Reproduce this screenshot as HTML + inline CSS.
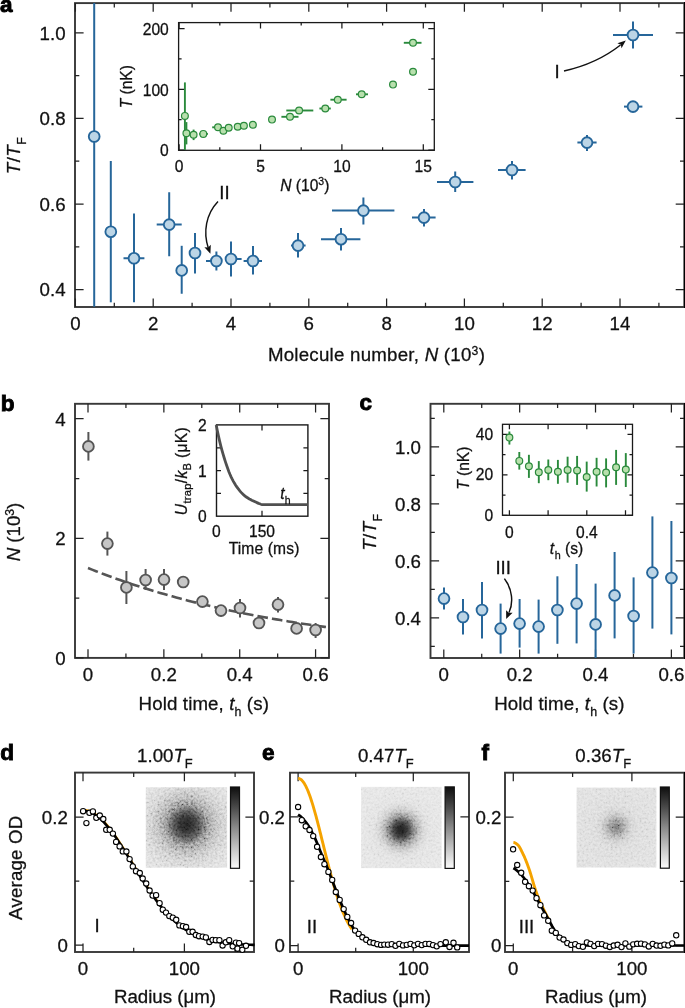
<!DOCTYPE html>
<html><head><meta charset="utf-8"><style>
html,body{margin:0;padding:0;background:#fff;}
svg{display:block;will-change:transform;}
text{font-family:"Liberation Sans",sans-serif;stroke:#111;stroke-width:0.28px;}
</style></head><body>
<svg width="685" height="1008" viewBox="0 0 685 1008" font-family="Liberation Sans, sans-serif">
<rect width="685" height="1008" fill="#fff"/>
<defs>
<filter id="nz" x="0" y="0" width="1" height="1">
<feTurbulence type="fractalNoise" baseFrequency="0.45" numOctaves="2" seed="5" result="n"/>
<feColorMatrix in="n" type="matrix" values="1.6 0 0 0 -0.3  1.6 0 0 0 -0.3  1.6 0 0 0 -0.3  0 0 0 0 1"/>
</filter>
<linearGradient id="cb" x1="0" y1="0" x2="0" y2="1">
<stop offset="0" stop-color="#0e0e0e"/><stop offset="0.25" stop-color="#4a4a4a"/><stop offset="0.5" stop-color="#8a8a8a"/><stop offset="0.75" stop-color="#c4c4c4"/><stop offset="1" stop-color="#fbfbfb"/>
</linearGradient>
<radialGradient id="gd" cx="0.5" cy="0.465" r="0.62" fx="0.5" fy="0.465">
<stop offset="0" stop-color="#1e1e1e"/><stop offset="0.15" stop-color="#2e2e2e"/><stop offset="0.28" stop-color="#505050"/><stop offset="0.4" stop-color="#808080"/><stop offset="0.55" stop-color="#adadad"/><stop offset="0.7" stop-color="#c6c6c6"/><stop offset="0.85" stop-color="#d3d3d3"/><stop offset="1" stop-color="#dadada"/>
</radialGradient>
<radialGradient id="ge" cx="0.496" cy="0.528" r="0.5" fx="0.496" fy="0.528">
<stop offset="0" stop-color="#1c1c1c"/><stop offset="0.1" stop-color="#262626"/><stop offset="0.2" stop-color="#404040"/><stop offset="0.3" stop-color="#707070"/><stop offset="0.42" stop-color="#aaaaaa"/><stop offset="0.55" stop-color="#d0d0d0"/><stop offset="0.7" stop-color="#dedede"/><stop offset="1" stop-color="#e2e2e2"/>
</radialGradient>
<radialGradient id="gf" cx="0.494" cy="0.493" r="0.5" fx="0.494" fy="0.493">
<stop offset="0" stop-color="#6a6a6a"/><stop offset="0.12" stop-color="#808080"/><stop offset="0.25" stop-color="#afafaf"/><stop offset="0.38" stop-color="#cdcdcd"/><stop offset="0.55" stop-color="#d8d8d8"/><stop offset="1" stop-color="#dcdcdc"/>
</radialGradient>
</defs>
<text x="0" y="11.6" font-size="22.5" font-weight="bold" fill="#000" style="stroke:#000;stroke-width:0.9px">a</text>
<rect x="75" y="3.1" width="609.3" height="303.9" fill="none" stroke="#383838" stroke-width="1.9"/>
<path d="M75.4 307V298.4M75.4 3.1V11.7M114.3 307V302.7M114.3 3.1V7.4M153.2 307V298.4M153.2 3.1V11.7M192.1 307V302.7M192.1 3.1V7.4M231 307V298.4M231 3.1V11.7M269.9 307V302.7M269.9 3.1V7.4M308.8 307V298.4M308.8 3.1V11.7M347.7 307V302.7M347.7 3.1V7.4M386.6 307V298.4M386.6 3.1V11.7M425.5 307V302.7M425.5 3.1V7.4M464.4 307V298.4M464.4 3.1V11.7M503.3 307V302.7M503.3 3.1V7.4M542.2 307V298.4M542.2 3.1V11.7M581.1 307V302.7M581.1 3.1V7.4M620 307V298.4M620 3.1V11.7M658.9 307V302.7M658.9 3.1V7.4M75 289.6H83.6M684.3 289.6H675.7M75 246.8H79.3M684.3 246.8H680M75 204H83.6M684.3 204H675.7M75 161.2H79.3M684.3 161.2H680M75 118.4H83.6M684.3 118.4H675.7M75 75.6H79.3M684.3 75.6H680M75 32.8H83.6M684.3 32.8H675.7" stroke="#222" stroke-width="1.25" fill="none"/>
<rect x="684" y="2" width="1" height="306" fill="#000"/>
<text x="75.4" y="330.3" font-size="18.7" text-anchor="middle" fill="#111">0</text>
<text x="153.2" y="330.3" font-size="18.7" text-anchor="middle" fill="#111">2</text>
<text x="231" y="330.3" font-size="18.7" text-anchor="middle" fill="#111">4</text>
<text x="308.8" y="330.3" font-size="18.7" text-anchor="middle" fill="#111">6</text>
<text x="386.6" y="330.3" font-size="18.7" text-anchor="middle" fill="#111">8</text>
<text x="464.4" y="330.3" font-size="18.7" text-anchor="middle" fill="#111">10</text>
<text x="542.2" y="330.3" font-size="18.7" text-anchor="middle" fill="#111">12</text>
<text x="620" y="330.3" font-size="18.7" text-anchor="middle" fill="#111">14</text>
<text x="65.6" y="296.4" font-size="18.7" text-anchor="end" fill="#111">0.4</text>
<text x="65.6" y="210.8" font-size="18.7" text-anchor="end" fill="#111">0.6</text>
<text x="65.6" y="125.2" font-size="18.7" text-anchor="end" fill="#111">0.8</text>
<text x="65.6" y="39.6" font-size="18.7" text-anchor="end" fill="#111">1.0</text>
<text x="267.9" y="361.2" font-size="18.7" text-anchor="start" fill="#111" letter-spacing="0.24">Molecule number, <tspan font-style="italic">N</tspan> (10<tspan font-size="12.2" dy="-6.5">3</tspan><tspan dy="6.5">)</tspan></text>
<text transform="translate(19.6 174.2) rotate(-90)" font-size="18.7" fill="#111" letter-spacing="0.45"><tspan font-style="italic">T</tspan>/<tspan font-style="italic">T</tspan><tspan font-size="12.4" dy="6.6">F</tspan></text>
<rect x="178.6" y="22.6" width="255.7" height="127.7" fill="none" stroke="#1a1a1a" stroke-width="1.3"/>
<path d="M179.1 150.3V144.3M179.1 22.6V28.6M219.8 150.3V147.3M219.8 22.6V25.6M260.5 150.3V144.3M260.5 22.6V28.6M301.2 150.3V147.3M301.2 22.6V25.6M341.9 150.3V144.3M341.9 22.6V28.6M382.6 150.3V147.3M382.6 22.6V25.6M423.3 150.3V144.3M423.3 22.6V28.6M178.6 150H184.6M434.3 150H428.3M178.6 119.65H181.6M434.3 119.65H431.3M178.6 89.3H184.6M434.3 89.3H428.3M178.6 58.95H181.6M434.3 58.95H431.3M178.6 28.6H184.6M434.3 28.6H428.3" stroke="#1a1a1a" stroke-width="1.25" fill="none"/>
<text x="168.8" y="156.2" font-size="15.6" text-anchor="end" fill="#111">0</text>
<text x="168.8" y="95.5" font-size="15.6" text-anchor="end" fill="#111">100</text>
<text x="168.8" y="34.8" font-size="15.6" text-anchor="end" fill="#111">200</text>
<text x="179.1" y="172.2" font-size="15.6" text-anchor="middle" fill="#111">0</text>
<text x="260.5" y="172.2" font-size="15.6" text-anchor="middle" fill="#111">5</text>
<text x="341.9" y="172.2" font-size="15.6" text-anchor="middle" fill="#111">10</text>
<text x="423.3" y="172.2" font-size="15.6" text-anchor="middle" fill="#111">15</text>
<text x="304.8" y="190.5" font-size="15.6" text-anchor="middle" fill="#111"><tspan font-style="italic">N</tspan> (10<tspan font-size="10.5" dy="-5.5">3</tspan><tspan dy="5.5">)</tspan></text>
<text transform="translate(131.8 86.7) rotate(-90)" font-size="15.6" fill="#111" text-anchor="middle"><tspan font-style="italic">T</tspan> (nK)</text>
<path d="M184.9 82.4V150" stroke="#2a8a3c" stroke-width="1.9" fill="none"/>
<circle cx="184.9" cy="115.9" r="3.4" fill="#b8e0ad" stroke="#2a8a3c" stroke-width="1.2"/>
<path d="M186.4 122.1V144.4" stroke="#2a8a3c" stroke-width="1.9" fill="none"/>
<circle cx="186.4" cy="133.3" r="3.4" fill="#b8e0ad" stroke="#2a8a3c" stroke-width="1.2"/>
<path d="M193.6 129.6V140.1" stroke="#2a8a3c" stroke-width="1.9" fill="none"/>
<circle cx="193.6" cy="134.8" r="3.4" fill="#b8e0ad" stroke="#2a8a3c" stroke-width="1.2"/>
<path d="M199.2 133.9H207.9" stroke="#2a8a3c" stroke-width="1.9" fill="none"/>
<circle cx="203.3" cy="133.9" r="3.4" fill="#b8e0ad" stroke="#2a8a3c" stroke-width="1.2"/>
<path d="M212.2 127.3H221" stroke="#2a8a3c" stroke-width="1.9" fill="none"/>
<circle cx="218" cy="127.3" r="3.4" fill="#b8e0ad" stroke="#2a8a3c" stroke-width="1.2"/>
<circle cx="223.4" cy="130.8" r="3.4" fill="#b8e0ad" stroke="#2a8a3c" stroke-width="1.2"/>
<circle cx="228.7" cy="127.7" r="3.4" fill="#b8e0ad" stroke="#2a8a3c" stroke-width="1.2"/>
<circle cx="237.7" cy="126.7" r="3.4" fill="#b8e0ad" stroke="#2a8a3c" stroke-width="1.2"/>
<circle cx="243.9" cy="125.8" r="3.4" fill="#b8e0ad" stroke="#2a8a3c" stroke-width="1.2"/>
<circle cx="252.9" cy="124.8" r="3.4" fill="#b8e0ad" stroke="#2a8a3c" stroke-width="1.2"/>
<circle cx="272" cy="119.6" r="3.4" fill="#b8e0ad" stroke="#2a8a3c" stroke-width="1.2"/>
<path d="M281.4 116.8H298.5" stroke="#2a8a3c" stroke-width="1.9" fill="none"/>
<circle cx="290" cy="116.8" r="3.4" fill="#b8e0ad" stroke="#2a8a3c" stroke-width="1.2"/>
<path d="M286.3 110.5H313.3" stroke="#2a8a3c" stroke-width="1.9" fill="none"/>
<circle cx="299.1" cy="110.5" r="3.4" fill="#b8e0ad" stroke="#2a8a3c" stroke-width="1.2"/>
<path d="M319.4 108.5H330.8" stroke="#2a8a3c" stroke-width="1.9" fill="none"/>
<circle cx="325.3" cy="108.5" r="3.4" fill="#b8e0ad" stroke="#2a8a3c" stroke-width="1.2"/>
<path d="M330.4 99.7H346.6" stroke="#2a8a3c" stroke-width="1.9" fill="none"/>
<circle cx="337.8" cy="99.7" r="3.4" fill="#b8e0ad" stroke="#2a8a3c" stroke-width="1.2"/>
<path d="M356 94.3H368" stroke="#2a8a3c" stroke-width="1.9" fill="none"/>
<circle cx="361.7" cy="94.3" r="3.4" fill="#b8e0ad" stroke="#2a8a3c" stroke-width="1.2"/>
<circle cx="393" cy="84.6" r="3.4" fill="#b8e0ad" stroke="#2a8a3c" stroke-width="1.2"/>
<circle cx="413" cy="71.8" r="3.4" fill="#b8e0ad" stroke="#2a8a3c" stroke-width="1.2"/>
<path d="M403.8 42.8H421.5" stroke="#2a8a3c" stroke-width="1.9" fill="none"/>
<circle cx="413" cy="42.8" r="3.4" fill="#b8e0ad" stroke="#2a8a3c" stroke-width="1.2"/>
<path d="M94.2 2.9V306.7" stroke="#26669a" stroke-width="2" fill="none"/>
<circle cx="94.2" cy="136.5" r="5.4" fill="#bcd5e6" stroke="#26669a" stroke-width="1.85"/>
<path d="M110.8 161V302.3" stroke="#26669a" stroke-width="2" fill="none"/>
<circle cx="110.8" cy="231.7" r="5.4" fill="#bcd5e6" stroke="#26669a" stroke-width="1.85"/>
<path d="M134 213.5V302.3M123.5 258.3H144.4" stroke="#26669a" stroke-width="2" fill="none"/>
<circle cx="134" cy="258.3" r="5.4" fill="#bcd5e6" stroke="#26669a" stroke-width="1.85"/>
<path d="M169.2 192.3V256.3M156.7 224.6H181.7" stroke="#26669a" stroke-width="2" fill="none"/>
<circle cx="169.2" cy="224.6" r="5.4" fill="#bcd5e6" stroke="#26669a" stroke-width="1.85"/>
<path d="M181.7 245.8V293.75" stroke="#26669a" stroke-width="2" fill="none"/>
<circle cx="181.7" cy="270.4" r="5.4" fill="#bcd5e6" stroke="#26669a" stroke-width="1.85"/>
<path d="M195 233V273.6" stroke="#26669a" stroke-width="2" fill="none"/>
<circle cx="195" cy="253" r="5.4" fill="#bcd5e6" stroke="#26669a" stroke-width="1.85"/>
<path d="M216.4 251.6V270.4M206 261H222" stroke="#26669a" stroke-width="2" fill="none"/>
<circle cx="216.4" cy="261" r="5.4" fill="#bcd5e6" stroke="#26669a" stroke-width="1.85"/>
<path d="M231 241.4V276.4M226 259H241.6" stroke="#26669a" stroke-width="2" fill="none"/>
<circle cx="231" cy="259" r="5.4" fill="#bcd5e6" stroke="#26669a" stroke-width="1.85"/>
<path d="M253 246V274.4M243.6 261H262" stroke="#26669a" stroke-width="2" fill="none"/>
<circle cx="253" cy="261" r="5.4" fill="#bcd5e6" stroke="#26669a" stroke-width="1.85"/>
<path d="M298 233V257.4M291 245.6H305.6" stroke="#26669a" stroke-width="2" fill="none"/>
<circle cx="298" cy="245.6" r="5.4" fill="#bcd5e6" stroke="#26669a" stroke-width="1.85"/>
<path d="M341 228V250.4M321 239.2H360.4" stroke="#26669a" stroke-width="2" fill="none"/>
<circle cx="341" cy="239.2" r="5.4" fill="#bcd5e6" stroke="#26669a" stroke-width="1.85"/>
<path d="M363.4 197.4V224.4M332 210.6H394.4" stroke="#26669a" stroke-width="2" fill="none"/>
<circle cx="363.4" cy="210.6" r="5.4" fill="#bcd5e6" stroke="#26669a" stroke-width="1.85"/>
<path d="M424 209V226.4M412 217.6H435.6" stroke="#26669a" stroke-width="2" fill="none"/>
<circle cx="424" cy="217.6" r="5.4" fill="#bcd5e6" stroke="#26669a" stroke-width="1.85"/>
<path d="M455.2 171.6V192M437 182H473.4" stroke="#26669a" stroke-width="2" fill="none"/>
<circle cx="455.2" cy="182" r="5.4" fill="#bcd5e6" stroke="#26669a" stroke-width="1.85"/>
<path d="M512 161V179.4M498 170H525.6" stroke="#26669a" stroke-width="2" fill="none"/>
<circle cx="512" cy="170" r="5.4" fill="#bcd5e6" stroke="#26669a" stroke-width="1.85"/>
<path d="M587 135V151M577.4 142.6H596.6" stroke="#26669a" stroke-width="2" fill="none"/>
<circle cx="587" cy="142.6" r="5.4" fill="#bcd5e6" stroke="#26669a" stroke-width="1.85"/>
<path d="M624 106.6H642.4" stroke="#26669a" stroke-width="2" fill="none"/>
<circle cx="633" cy="106.6" r="5.4" fill="#bcd5e6" stroke="#26669a" stroke-width="1.85"/>
<path d="M633 21.4V48.4M613 35H653" stroke="#26669a" stroke-width="2" fill="none"/>
<circle cx="633" cy="35" r="5.4" fill="#bcd5e6" stroke="#26669a" stroke-width="1.85"/>
<text x="224.4" y="198.6" font-size="18.7" text-anchor="middle" fill="#111">II</text>
<path d="M218 201.5 C206 214 203 232 208.3 248" fill="none" stroke="#111" stroke-width="1.45"/>
<path d="M210.4 253.8 L204.4 247.3 L208.2 247.6 L210.8 244.8 Z" fill="#111"/>
<text x="557" y="78.2" font-size="18.7" text-anchor="middle" fill="#111">I</text>
<path d="M564 71 C582 67 604 58 620.5 45" fill="none" stroke="#111" stroke-width="1.45"/>
<path d="M625.8 40.4 L617.4 43.2 L620.9 44.8 L621.5 48.3 Z" fill="#111"/>
<text x="0.8" y="410.6" font-size="22.5" font-weight="bold" fill="#000" style="stroke:#000;stroke-width:0.9px">b</text>
<rect x="75" y="403.8" width="254" height="254.1" fill="none" stroke="#383838" stroke-width="1.9"/>
<path d="M88 657.9V649.3M88 403.8V412.4M125.93 657.9V653.6M125.93 403.8V408.1M163.86 657.9V649.3M163.86 403.8V412.4M201.79 657.9V653.6M201.79 403.8V408.1M239.72 657.9V649.3M239.72 403.8V412.4M277.65 657.9V653.6M277.65 403.8V408.1M315.58 657.9V649.3M315.58 403.8V412.4M75 657.9H83.6M329 657.9H320.4M75 598.1H79.3M329 598.1H324.7M75 538.3H83.6M329 538.3H320.4M75 478.5H79.3M329 478.5H324.7M75 418.7H83.6M329 418.7H320.4" stroke="#222" stroke-width="1.25" fill="none"/>
<text x="65.6" y="664.7" font-size="18.7" text-anchor="end" fill="#111">0</text>
<text x="65.6" y="545.1" font-size="18.7" text-anchor="end" fill="#111">2</text>
<text x="65.6" y="425.5" font-size="18.7" text-anchor="end" fill="#111">4</text>
<text x="88" y="681.2" font-size="18.7" text-anchor="middle" fill="#111">0</text>
<text x="163.86" y="681.2" font-size="18.7" text-anchor="middle" fill="#111">0.2</text>
<text x="239.72" y="681.2" font-size="18.7" text-anchor="middle" fill="#111">0.4</text>
<text x="315.58" y="681.2" font-size="18.7" text-anchor="middle" fill="#111">0.6</text>
<text x="138.6" y="709.5" font-size="18.7" text-anchor="start" fill="#111" letter-spacing="0.12">Hold time, <tspan font-style="italic">t</tspan><tspan font-size="12.4" dy="6.6">h</tspan><tspan dy="-6.6"> (s)</tspan></text>
<text transform="translate(20.2 532) rotate(-90)" font-size="18.7" fill="#111" text-anchor="middle"><tspan font-style="italic">N</tspan> (10<tspan font-size="12.2" dy="-6.5">3</tspan><tspan dy="6.5">)</tspan></text>
<path d="M88 568.02 L92.01 569.63 L96.02 571.2 L100.03 572.75 L104.03 574.28 L108.04 575.77 L112.05 577.24 L116.06 578.68 L120.07 580.1 L124.08 581.49 L128.08 582.85 L132.09 584.19 L136.1 585.51 L140.11 586.8 L144.12 588.07 L148.12 589.32 L152.13 590.55 L156.14 591.75 L160.15 592.93 L164.16 594.1 L168.17 595.24 L172.18 596.36 L176.18 597.46 L180.19 598.54 L184.2 599.6 L188.21 600.64 L192.22 601.66 L196.22 602.67 L200.23 603.65 L204.24 604.62 L208.25 605.58 L212.26 606.51 L216.27 607.43 L220.28 608.33 L224.28 609.22 L228.29 610.09 L232.3 610.94 L236.31 611.78 L240.32 612.61 L244.32 613.41 L248.33 614.21 L252.34 614.99 L256.35 615.76 L260.36 616.51 L264.37 617.25 L268.38 617.98 L272.38 618.69 L276.39 619.39 L280.4 620.08 L284.41 620.76 L288.42 621.42 L292.43 622.07 L296.43 622.71 L300.44 623.34 L304.45 623.96 L308.46 624.56 L312.47 625.16 L316.48 625.75 L320.48 626.32 L324.49 626.88 L328.5 627.44" fill="none" stroke="#555" stroke-width="2.6" stroke-dasharray="10.6 4.1"/>
<path d="M88.4 432V460.6" stroke="#555" stroke-width="2" fill="none"/>
<circle cx="88.4" cy="446.4" r="5.4" fill="#c6c6c6" stroke="#555" stroke-width="1.85"/>
<path d="M107.4 531.6V555.6" stroke="#555" stroke-width="2" fill="none"/>
<circle cx="107.4" cy="543.6" r="5.4" fill="#c6c6c6" stroke="#555" stroke-width="1.85"/>
<path d="M126.4 571V604" stroke="#555" stroke-width="2" fill="none"/>
<circle cx="126.4" cy="587.4" r="5.4" fill="#c6c6c6" stroke="#555" stroke-width="1.85"/>
<path d="M145.6 569V590" stroke="#555" stroke-width="2" fill="none"/>
<circle cx="145.6" cy="580" r="5.4" fill="#c6c6c6" stroke="#555" stroke-width="1.85"/>
<path d="M164 569V590" stroke="#555" stroke-width="2" fill="none"/>
<circle cx="164" cy="579.6" r="5.4" fill="#c6c6c6" stroke="#555" stroke-width="1.85"/>
<circle cx="183.2" cy="582" r="5.4" fill="#c6c6c6" stroke="#555" stroke-width="1.85"/>
<path d="M202.4 597V607" stroke="#555" stroke-width="2" fill="none"/>
<circle cx="202.4" cy="601.6" r="5.4" fill="#c6c6c6" stroke="#555" stroke-width="1.85"/>
<path d="M221 605.6V616.4" stroke="#555" stroke-width="2" fill="none"/>
<circle cx="221" cy="610.6" r="5.4" fill="#c6c6c6" stroke="#555" stroke-width="1.85"/>
<path d="M240 599V617.6" stroke="#555" stroke-width="2" fill="none"/>
<circle cx="240" cy="608" r="5.4" fill="#c6c6c6" stroke="#555" stroke-width="1.85"/>
<circle cx="259" cy="623" r="5.4" fill="#c6c6c6" stroke="#555" stroke-width="1.85"/>
<path d="M278 597V612.4" stroke="#555" stroke-width="2" fill="none"/>
<circle cx="278" cy="604.6" r="5.4" fill="#c6c6c6" stroke="#555" stroke-width="1.85"/>
<circle cx="296.6" cy="628.4" r="5.4" fill="#c6c6c6" stroke="#555" stroke-width="1.85"/>
<path d="M315.6 623V638" stroke="#555" stroke-width="2" fill="none"/>
<circle cx="315.6" cy="630" r="5.4" fill="#c6c6c6" stroke="#555" stroke-width="1.85"/>
<rect x="216.2" y="425" width="91.6" height="91.2" fill="#fff"/>
<rect x="216.5" y="424.9" width="91.4" height="91.3" fill="none" stroke="#1a1a1a" stroke-width="1.4"/>
<path d="M262 516.2V510.7M262 424.9V430.4M216.5 493.4H221M307.9 493.4H303.4M216.5 470.6H221M307.9 470.6H303.4M216.5 447.8H221M307.9 447.8H303.4" stroke="#1a1a1a" stroke-width="1.25" fill="none"/>
<text x="206.7" y="522.3" font-size="15.6" text-anchor="end" fill="#111">0</text>
<text x="206.7" y="476.7" font-size="15.6" text-anchor="end" fill="#111">1</text>
<text x="206.7" y="431.1" font-size="15.6" text-anchor="end" fill="#111">2</text>
<text x="216.4" y="537" font-size="15.6" text-anchor="middle" fill="#111">0</text>
<text x="262" y="537" font-size="15.6" text-anchor="middle" fill="#111">150</text>
<text x="264.1" y="554.1" font-size="15.6" text-anchor="middle" fill="#111" letter-spacing="0.15">Time (ms)</text>
<path d="M216.2 425 L217.34 430.69 L218.49 436.09 L219.63 441.15 L220.78 445.85 L221.92 450.19 L223.07 454.23 L224.22 458.01 L225.36 461.58 L226.5 464.99 L227.65 468.29 L228.79 471.42 L229.94 474.28 L231.08 476.82 L232.23 479.15 L233.38 481.33 L234.52 483.35 L235.66 485.21 L236.81 486.9 L237.95 488.45 L239.1 489.92 L240.25 491.32 L241.39 492.62 L242.53 493.82 L243.68 494.91 L244.82 495.88 L245.97 496.75 L247.12 497.53 L248.26 498.26 L249.41 498.93 L250.55 499.55 L251.69 500.15 L252.84 500.72 L253.99 501.28 L255.13 501.83 L256.27 502.35 L257.42 502.85 L258.56 503.33 L259.71 503.78 L260.86 504.21 L262 504.6 L307.8 504.6" fill="none" stroke="#505050" stroke-width="2.8"/>
<text x="280.3" y="498.8" font-size="15.6" text-anchor="start" fill="#111"><tspan font-style="italic">t</tspan><tspan font-size="10.5" dy="5">h</tspan></text>
<text transform="translate(187 471.1) rotate(-90)" font-size="15.6" fill="#111" text-anchor="middle" letter-spacing="0.3"><tspan font-style="italic">U</tspan><tspan font-size="11.2" dy="4">trap</tspan><tspan dy="-4">/</tspan><tspan font-style="italic">k</tspan><tspan font-size="11.2" dy="4">B</tspan><tspan dy="-4"> (μK)</tspan></text>
<text x="359.6" y="409.6" font-size="22.5" font-weight="bold" fill="#000" style="stroke:#000;stroke-width:0.9px">c</text>
<rect x="430.5" y="403.8" width="253.8" height="254.2" fill="none" stroke="#383838" stroke-width="1.9"/>
<path d="M443.8 658V649.4M443.8 403.8V412.4M481.73 658V653.7M481.73 403.8V408.1M519.66 658V649.4M519.66 403.8V412.4M557.59 658V653.7M557.59 403.8V408.1M595.52 658V649.4M595.52 403.8V412.4M633.45 658V653.7M633.45 403.8V408.1M671.38 658V649.4M671.38 403.8V412.4M430.5 646.4H434.8M684.3 646.4H680M430.5 617.9H439.1M684.3 617.9H675.7M430.5 589.4H434.8M684.3 589.4H680M430.5 560.9H439.1M684.3 560.9H675.7M430.5 532.4H434.8M684.3 532.4H680M430.5 503.9H439.1M684.3 503.9H675.7M430.5 475.4H434.8M684.3 475.4H680M430.5 446.9H439.1M684.3 446.9H675.7M430.5 418.4H434.8M684.3 418.4H680" stroke="#222" stroke-width="1.25" fill="none"/>
<rect x="684" y="403" width="1" height="256" fill="#000"/>
<text x="421" y="624.7" font-size="18.7" text-anchor="end" fill="#111">0.4</text>
<text x="421" y="567.7" font-size="18.7" text-anchor="end" fill="#111">0.6</text>
<text x="421" y="510.7" font-size="18.7" text-anchor="end" fill="#111">0.8</text>
<text x="421" y="453.7" font-size="18.7" text-anchor="end" fill="#111">1.0</text>
<text x="443.8" y="681.2" font-size="18.7" text-anchor="middle" fill="#111">0</text>
<text x="519.66" y="681.2" font-size="18.7" text-anchor="middle" fill="#111">0.2</text>
<text x="595.52" y="681.2" font-size="18.7" text-anchor="middle" fill="#111">0.4</text>
<text x="671.38" y="681.2" font-size="18.7" text-anchor="middle" fill="#111">0.6</text>
<text x="494.2" y="709.5" font-size="18.7" text-anchor="start" fill="#111" letter-spacing="0.12">Hold time, <tspan font-style="italic">t</tspan><tspan font-size="12.4" dy="6.6">h</tspan><tspan dy="-6.6"> (s)</tspan></text>
<text transform="translate(375.6 550.8) rotate(-90)" font-size="18.7" fill="#111" letter-spacing="0.45"><tspan font-style="italic">T</tspan>/<tspan font-style="italic">T</tspan><tspan font-size="12.4" dy="6.6">F</tspan></text>
<path d="M444 587.4V609.4" stroke="#26669a" stroke-width="2" fill="none"/>
<circle cx="444" cy="598.6" r="5.4" fill="#bcd5e6" stroke="#26669a" stroke-width="1.85"/>
<path d="M463 599V634.4" stroke="#26669a" stroke-width="2" fill="none"/>
<circle cx="463" cy="617" r="5.4" fill="#bcd5e6" stroke="#26669a" stroke-width="1.85"/>
<path d="M482 582V638.4" stroke="#26669a" stroke-width="2" fill="none"/>
<circle cx="482" cy="610" r="5.4" fill="#bcd5e6" stroke="#26669a" stroke-width="1.85"/>
<path d="M500.6 603.6V653.6" stroke="#26669a" stroke-width="2" fill="none"/>
<circle cx="500.6" cy="628.6" r="5.4" fill="#bcd5e6" stroke="#26669a" stroke-width="1.85"/>
<path d="M519.6 599V647.6" stroke="#26669a" stroke-width="2" fill="none"/>
<circle cx="519.6" cy="623.6" r="5.4" fill="#bcd5e6" stroke="#26669a" stroke-width="1.85"/>
<path d="M538.6 599.6V653.6" stroke="#26669a" stroke-width="2" fill="none"/>
<circle cx="538.6" cy="626.6" r="5.4" fill="#bcd5e6" stroke="#26669a" stroke-width="1.85"/>
<path d="M557.4 576.3V643.8" stroke="#26669a" stroke-width="2" fill="none"/>
<circle cx="557.4" cy="610" r="5.4" fill="#bcd5e6" stroke="#26669a" stroke-width="1.85"/>
<path d="M576.6 564V643.4" stroke="#26669a" stroke-width="2" fill="none"/>
<circle cx="576.6" cy="603.6" r="5.4" fill="#bcd5e6" stroke="#26669a" stroke-width="1.85"/>
<path d="M595.6 583.6V658" stroke="#26669a" stroke-width="2" fill="none"/>
<circle cx="595.6" cy="624.4" r="5.4" fill="#bcd5e6" stroke="#26669a" stroke-width="1.85"/>
<path d="M614.6 552V638.4" stroke="#26669a" stroke-width="2" fill="none"/>
<circle cx="614.6" cy="595.4" r="5.4" fill="#bcd5e6" stroke="#26669a" stroke-width="1.85"/>
<path d="M633.6 577.4V653.6" stroke="#26669a" stroke-width="2" fill="none"/>
<circle cx="633.6" cy="616" r="5.4" fill="#bcd5e6" stroke="#26669a" stroke-width="1.85"/>
<path d="M652.4 516.4V628.6" stroke="#26669a" stroke-width="2" fill="none"/>
<circle cx="652.4" cy="572.6" r="5.4" fill="#bcd5e6" stroke="#26669a" stroke-width="1.85"/>
<path d="M671.4 521V634.4" stroke="#26669a" stroke-width="2" fill="none"/>
<circle cx="671.4" cy="578" r="5.4" fill="#bcd5e6" stroke="#26669a" stroke-width="1.85"/>
<rect x="502.5" y="424.3" width="130" height="91" fill="none" stroke="#1a1a1a" stroke-width="1.3"/>
<path d="M509.4 515.3V510.3M509.4 424.3V429.3M548.1 515.3V510.3M548.1 424.3V429.3M586.8 515.3V510.3M586.8 424.3V429.3M625.5 515.3V510.3M625.5 424.3V429.3M502.5 515.3H507.5M632.5 515.3H627.5M502.5 495.05H505.5M632.5 495.05H629.5M502.5 474.8H507.5M632.5 474.8H627.5M502.5 454.55H505.5M632.5 454.55H629.5M502.5 434.3H507.5M632.5 434.3H627.5" stroke="#1a1a1a" stroke-width="1.25" fill="none"/>
<text x="493.2" y="520.9" font-size="15.6" text-anchor="end" fill="#111">0</text>
<text x="493.2" y="480.4" font-size="15.6" text-anchor="end" fill="#111">20</text>
<text x="493.2" y="439.9" font-size="15.6" text-anchor="end" fill="#111">40</text>
<text x="509.4" y="537.8" font-size="15.6" text-anchor="middle" fill="#111">0</text>
<text x="586.8" y="537.8" font-size="15.6" text-anchor="middle" fill="#111">0.4</text>
<text x="549.8" y="553.7" font-size="15.6" text-anchor="start" fill="#111"><tspan font-style="italic">t</tspan><tspan font-size="10.8" dy="5.2" dx="0.6">h</tspan><tspan dy="-5.2"> (s)</tspan></text>
<text transform="translate(468.6 468.2) rotate(-90)" font-size="15.6" fill="#111" text-anchor="middle"><tspan font-style="italic">T</tspan> (nK)</text>
<path d="M509.4 431.5V444.6" stroke="#2a8a3c" stroke-width="1.9" fill="none"/>
<circle cx="509.4" cy="437.6" r="3.4" fill="#b8e0ad" stroke="#2a8a3c" stroke-width="1.2"/>
<path d="M519.3 452V469.6" stroke="#2a8a3c" stroke-width="1.9" fill="none"/>
<circle cx="519.3" cy="460.9" r="3.4" fill="#b8e0ad" stroke="#2a8a3c" stroke-width="1.2"/>
<path d="M528.9 454.8V477.9" stroke="#2a8a3c" stroke-width="1.9" fill="none"/>
<circle cx="528.9" cy="466.2" r="3.4" fill="#b8e0ad" stroke="#2a8a3c" stroke-width="1.2"/>
<path d="M538.8 461.1V483.2" stroke="#2a8a3c" stroke-width="1.9" fill="none"/>
<circle cx="538.8" cy="472.2" r="3.4" fill="#b8e0ad" stroke="#2a8a3c" stroke-width="1.2"/>
<path d="M548.3 459.5V480.2" stroke="#2a8a3c" stroke-width="1.9" fill="none"/>
<circle cx="548.3" cy="470" r="3.4" fill="#b8e0ad" stroke="#2a8a3c" stroke-width="1.2"/>
<path d="M557.9 459.9V483.8" stroke="#2a8a3c" stroke-width="1.9" fill="none"/>
<circle cx="557.9" cy="471.7" r="3.4" fill="#b8e0ad" stroke="#2a8a3c" stroke-width="1.2"/>
<path d="M567.6 456.7V482.7" stroke="#2a8a3c" stroke-width="1.9" fill="none"/>
<circle cx="567.6" cy="470" r="3.4" fill="#b8e0ad" stroke="#2a8a3c" stroke-width="1.2"/>
<path d="M577.1 455.9V484.9" stroke="#2a8a3c" stroke-width="1.9" fill="none"/>
<circle cx="577.1" cy="470.5" r="3.4" fill="#b8e0ad" stroke="#2a8a3c" stroke-width="1.2"/>
<path d="M586.7 461.6V491.6" stroke="#2a8a3c" stroke-width="1.9" fill="none"/>
<circle cx="586.7" cy="477" r="3.4" fill="#b8e0ad" stroke="#2a8a3c" stroke-width="1.2"/>
<path d="M596.6 457.8V486.5" stroke="#2a8a3c" stroke-width="1.9" fill="none"/>
<circle cx="596.6" cy="471.7" r="3.4" fill="#b8e0ad" stroke="#2a8a3c" stroke-width="1.2"/>
<path d="M606.1 458.4V487.4" stroke="#2a8a3c" stroke-width="1.9" fill="none"/>
<circle cx="606.1" cy="472.6" r="3.4" fill="#b8e0ad" stroke="#2a8a3c" stroke-width="1.2"/>
<path d="M616.1 449.9V484.9" stroke="#2a8a3c" stroke-width="1.9" fill="none"/>
<circle cx="616.1" cy="467.3" r="3.4" fill="#b8e0ad" stroke="#2a8a3c" stroke-width="1.2"/>
<path d="M625.8 453.1V487" stroke="#2a8a3c" stroke-width="1.9" fill="none"/>
<circle cx="625.8" cy="469.6" r="3.4" fill="#b8e0ad" stroke="#2a8a3c" stroke-width="1.2"/>
<text x="503.2" y="574.2" font-size="18.7" text-anchor="middle" fill="#111">III</text>
<path d="M504.4 578.6 C512.5 589 513.5 603 509 612.5" fill="none" stroke="#111" stroke-width="1.45"/>
<path d="M506.2 619 L506.1 610.2 L508.8 612.8 L512.6 612.8 Z" fill="#111"/>
<text x="0.2" y="760.2" font-size="22.5" font-weight="bold" fill="#000" style="stroke:#000;stroke-width:0.9px">d</text>
<rect x="75" y="772.6" width="179" height="179.4" fill="none" stroke="#383838" stroke-width="1.9"/>
<path d="M83 952V943.4M83 772.6V781.2M133.7 952V947.7M133.7 772.6V776.9M184.4 952V943.4M184.4 772.6V781.2M235.1 952V947.7M235.1 772.6V776.9M75 945.2H83.6M254 945.2H245.4M75 881.2H79.3M254 881.2H249.7M75 817.2H83.6M254 817.2H245.4" stroke="#222" stroke-width="1.25" fill="none"/>
<text x="67.8" y="824" font-size="18.7" text-anchor="end" fill="#111">0.2</text>
<text x="67.8" y="952" font-size="18.7" text-anchor="end" fill="#111">0</text>
<text x="83" y="975.4" font-size="18.7" text-anchor="middle" fill="#111">0</text>
<text x="184.4" y="975.4" font-size="18.7" text-anchor="middle" fill="#111">100</text>
<text x="165" y="1003.4" font-size="18.7" text-anchor="middle" fill="#111">Radius (μm)</text>
<text x="164.9" y="762" font-size="18.7" text-anchor="middle" fill="#111">1.00<tspan font-style="italic">T</tspan><tspan font-size="12.9" dy="6.4">F</tspan></text>
<text transform="translate(22.3 867.7) rotate(-90)" font-size="18.7" fill="#111" text-anchor="middle" letter-spacing="0.2">Average OD</text>
<rect x="145.8" y="787.3" width="81.3" height="80.4" fill="url(#gd)"/>
<rect x="145.8" y="787.3" width="81.3" height="80.4" fill="#888" filter="url(#nz)" style="mix-blend-mode:overlay" opacity="0.55"/>
<rect x="230.5" y="787" width="9" height="81.3" fill="url(#cb)" stroke="#111" stroke-width="1.2"/>
<text x="97" y="932.4" font-size="18.7" text-anchor="middle" fill="#111">I</text>
<path d="M83 810 L84.93 810.1 L86.86 810.41 L88.78 810.92 L90.71 811.63 L92.64 812.54 L94.57 813.64 L96.5 814.93 L98.42 816.4 L100.35 818.05 L102.28 819.86 L104.21 821.84 L106.14 823.97 L108.07 826.24 L109.99 828.65 L111.92 831.18 L113.85 833.83 L115.78 836.57 L117.71 839.41 L119.63 842.33 L121.56 845.32 L123.49 848.37 L125.42 851.47 L127.35 854.6 L129.27 857.76 L131.2 860.94 L133.13 864.12 L135.06 867.3 L136.99 870.46 L138.91 873.61 L140.84 876.72 L142.77 879.79 L144.7 882.82 L146.63 885.8 L148.56 888.72 L150.48 891.57 L152.41 894.35 L154.34 897.06 L156.27 899.69 L158.2 902.24" fill="none" stroke="#f5a300" stroke-width="2.2"/>
<path d="M83 810.8 L84.93 810.9 L86.86 811.21 L88.78 811.72 L90.71 812.43 L92.64 813.34 L94.57 814.44 L96.5 815.73 L98.42 817.2 L100.35 818.85 L102.28 820.66 L104.21 822.64 L106.14 824.77 L108.07 827.04 L109.99 829.45 L111.92 831.98 L113.85 834.63 L115.78 837.37 L117.71 840.21 L119.63 843.13 L121.56 846.12 L123.49 849.17 L125.42 852.27 L127.35 855.4 L129.27 858.56 L131.2 861.74 L133.13 864.92 L135.06 868.1 L136.99 871.26 L138.91 874.41 L140.84 877.52 L142.77 880.59 L144.7 883.62 L146.63 886.6 L148.56 889.52 L150.48 892.37 L152.41 895.15 L154.34 897.86 L156.27 900.49 L158.2 903.04 L160.12 905.5 L162.05 907.88 L163.98 910.17 L165.91 912.37 L167.84 914.47 L169.76 916.49 L171.69 918.41 L173.62 920.25 L175.55 921.99 L177.48 923.64 L179.4 925.21 L181.33 926.69 L183.26 928.09 L185.19 929.41 L187.12 930.64 L189.04 931.8 L190.97 932.89 L192.9 933.91 L194.83 934.85 L196.76 935.74 L198.69 936.56 L200.61 937.32 L202.54 938.02 L204.47 938.68 L206.4 939.28 L208.33 939.83 L210.25 940.34 L212.18 940.81 L214.11 941.24 L216.04 941.63 L217.97 941.99 L219.89 942.32 L221.82 942.62 L223.75 942.89 L225.68 943.13 L227.61 943.35 L229.53 943.55 L231.46 943.74 L233.39 943.9 L235.32 944.05 L237.25 944.18 L239.18 944.3 L241.1 944.4 L243.03 944.5 L244.96 944.58 L246.89 944.65 L248.82 944.72 L250.74 944.78 L252.67 944.83 L254.6 944.88" fill="none" stroke="#000" stroke-width="2.6"/>
<circle cx="83.1" cy="811.2" r="2.65" fill="#fff" stroke="#000" stroke-width="1.05"/>
<circle cx="86.4" cy="823.1" r="2.65" fill="#fff" stroke="#000" stroke-width="1.05"/>
<circle cx="89.4" cy="812.8" r="2.65" fill="#fff" stroke="#000" stroke-width="1.05"/>
<circle cx="92.9" cy="811.4" r="2.65" fill="#fff" stroke="#000" stroke-width="1.05"/>
<circle cx="96.3" cy="817.8" r="2.65" fill="#fff" stroke="#000" stroke-width="1.05"/>
<circle cx="99.8" cy="815.5" r="2.65" fill="#fff" stroke="#000" stroke-width="1.05"/>
<circle cx="103.3" cy="819" r="2.65" fill="#fff" stroke="#000" stroke-width="1.05"/>
<circle cx="106.2" cy="829.8" r="2.65" fill="#fff" stroke="#000" stroke-width="1.05"/>
<circle cx="109.7" cy="829.8" r="2.65" fill="#fff" stroke="#000" stroke-width="1.05"/>
<circle cx="112.9" cy="833.6" r="2.65" fill="#fff" stroke="#000" stroke-width="1.05"/>
<circle cx="116.1" cy="841.9" r="2.65" fill="#fff" stroke="#000" stroke-width="1.05"/>
<circle cx="119.6" cy="846.4" r="2.65" fill="#fff" stroke="#000" stroke-width="1.05"/>
<circle cx="122.8" cy="851.4" r="2.65" fill="#fff" stroke="#000" stroke-width="1.05"/>
<circle cx="126.4" cy="851.5" r="2.65" fill="#fff" stroke="#000" stroke-width="1.05"/>
<circle cx="129.6" cy="859.1" r="2.65" fill="#fff" stroke="#000" stroke-width="1.05"/>
<circle cx="132.8" cy="866.4" r="2.65" fill="#fff" stroke="#000" stroke-width="1.05"/>
<circle cx="136" cy="871.2" r="2.65" fill="#fff" stroke="#000" stroke-width="1.05"/>
<circle cx="139.8" cy="873" r="2.65" fill="#fff" stroke="#000" stroke-width="1.05"/>
<circle cx="142.7" cy="878.5" r="2.65" fill="#fff" stroke="#000" stroke-width="1.05"/>
<circle cx="146.2" cy="883.5" r="2.65" fill="#fff" stroke="#000" stroke-width="1.05"/>
<circle cx="149.6" cy="890.5" r="2.65" fill="#fff" stroke="#000" stroke-width="1.05"/>
<circle cx="152.6" cy="895.6" r="2.65" fill="#fff" stroke="#000" stroke-width="1.05"/>
<circle cx="156.1" cy="895.2" r="2.65" fill="#fff" stroke="#000" stroke-width="1.05"/>
<circle cx="159.6" cy="903.2" r="2.65" fill="#fff" stroke="#000" stroke-width="1.05"/>
<circle cx="162.8" cy="909.7" r="2.65" fill="#fff" stroke="#000" stroke-width="1.05"/>
<circle cx="166" cy="912.6" r="2.65" fill="#fff" stroke="#000" stroke-width="1.05"/>
<circle cx="169.3" cy="916.1" r="2.65" fill="#fff" stroke="#000" stroke-width="1.05"/>
<circle cx="172.8" cy="917.7" r="2.65" fill="#fff" stroke="#000" stroke-width="1.05"/>
<circle cx="176.2" cy="919.8" r="2.65" fill="#fff" stroke="#000" stroke-width="1.05"/>
<circle cx="179.4" cy="925.4" r="2.65" fill="#fff" stroke="#000" stroke-width="1.05"/>
<circle cx="182.9" cy="926.2" r="2.65" fill="#fff" stroke="#000" stroke-width="1.05"/>
<circle cx="186.1" cy="927" r="2.65" fill="#fff" stroke="#000" stroke-width="1.05"/>
<circle cx="189.3" cy="931.8" r="2.65" fill="#fff" stroke="#000" stroke-width="1.05"/>
<circle cx="192.6" cy="931.8" r="2.65" fill="#fff" stroke="#000" stroke-width="1.05"/>
<circle cx="195.8" cy="935" r="2.65" fill="#fff" stroke="#000" stroke-width="1.05"/>
<circle cx="199" cy="936.2" r="2.65" fill="#fff" stroke="#000" stroke-width="1.05"/>
<circle cx="202.7" cy="936.6" r="2.65" fill="#fff" stroke="#000" stroke-width="1.05"/>
<circle cx="205.9" cy="937.4" r="2.65" fill="#fff" stroke="#000" stroke-width="1.05"/>
<circle cx="209.4" cy="942" r="2.65" fill="#fff" stroke="#000" stroke-width="1.05"/>
<circle cx="212.6" cy="939.9" r="2.65" fill="#fff" stroke="#000" stroke-width="1.05"/>
<circle cx="215.8" cy="940.2" r="2.65" fill="#fff" stroke="#000" stroke-width="1.05"/>
<circle cx="219.4" cy="940.2" r="2.65" fill="#fff" stroke="#000" stroke-width="1.05"/>
<circle cx="222.6" cy="945.5" r="2.65" fill="#fff" stroke="#000" stroke-width="1.05"/>
<circle cx="225.8" cy="942.3" r="2.65" fill="#fff" stroke="#000" stroke-width="1.05"/>
<circle cx="229.2" cy="940.2" r="2.65" fill="#fff" stroke="#000" stroke-width="1.05"/>
<circle cx="232.7" cy="946.3" r="2.65" fill="#fff" stroke="#000" stroke-width="1.05"/>
<circle cx="235.9" cy="942.6" r="2.65" fill="#fff" stroke="#000" stroke-width="1.05"/>
<circle cx="239.1" cy="943.1" r="2.65" fill="#fff" stroke="#000" stroke-width="1.05"/>
<circle cx="237.5" cy="948.7" r="2.65" fill="#fff" stroke="#000" stroke-width="1.05"/>
<circle cx="242.3" cy="949.8" r="2.65" fill="#fff" stroke="#000" stroke-width="1.05"/>
<circle cx="246" cy="945.8" r="2.65" fill="#fff" stroke="#000" stroke-width="1.05"/>
<text x="262" y="760.4" font-size="22.5" font-weight="bold" fill="#000" style="stroke:#000;stroke-width:0.9px">e</text>
<rect x="290" y="772.7" width="179" height="179.3" fill="none" stroke="#383838" stroke-width="1.9"/>
<path d="M298.1 952V943.4M298.1 772.7V781.3M355.7 952V947.7M355.7 772.7V777M413.3 952V943.4M413.3 772.7V781.3M290 945.6H298.6M469 945.6H460.4M290 881.2H294.3M469 881.2H464.7M290 816.8H298.6M469 816.8H460.4" stroke="#222" stroke-width="1.25" fill="none"/>
<text x="285" y="823.6" font-size="18.7" text-anchor="end" fill="#111">0.2</text>
<text x="285" y="952.4" font-size="18.7" text-anchor="end" fill="#111">0</text>
<text x="298.1" y="975.4" font-size="18.7" text-anchor="middle" fill="#111">0</text>
<text x="413.3" y="975.4" font-size="18.7" text-anchor="middle" fill="#111">100</text>
<text x="380" y="1003.4" font-size="18.7" text-anchor="middle" fill="#111">Radius (μm)</text>
<text x="385.8" y="762" font-size="18.7" text-anchor="middle" fill="#111">0.47<tspan font-style="italic">T</tspan><tspan font-size="12.9" dy="6.4">F</tspan></text>
<rect x="361.1" y="786.9" width="80.5" height="81.2" fill="url(#ge)"/>
<rect x="361.1" y="786.9" width="80.5" height="81.2" fill="#888" filter="url(#nz)" style="mix-blend-mode:overlay" opacity="0.42"/>
<rect x="445.1" y="786.9" width="9.2" height="81.5" fill="url(#cb)" stroke="#111" stroke-width="1.2"/>
<text x="312" y="932.6" font-size="18.7" text-anchor="middle" fill="#111">II</text>
<path d="M298.1 778.42 L298.88 778.5 L299.66 778.74 L300.44 779.15 L301.22 779.72 L302.01 780.45 L302.79 781.33 L303.57 782.37 L304.35 783.56 L305.13 784.9 L305.91 786.38 L306.69 788.01 L307.47 789.77 L308.26 791.66 L309.04 793.67 L309.82 795.81 L310.6 798.06 L311.38 800.42 L312.16 802.88 L312.94 805.43 L313.72 808.08 L314.5 810.8 L315.29 813.6 L316.07 816.47 L316.85 819.4 L317.63 822.38 L318.41 825.41 L319.19 828.48 L319.97 831.59 L320.75 834.72 L321.53 837.86 L322.32 841.03 L323.1 844.19 L323.88 847.36 L324.66 850.52 L325.44 853.67 L326.22 856.8 L327 859.91 L327.78 862.99 L328.57 866.04 L329.35 869.05 L330.13 872.02 L330.91 874.94 L331.69 877.81 L332.47 880.63 L333.25 883.4 L334.03 886.1 L334.81 888.74 L335.6 891.32 L336.38 893.83 L337.16 896.27 L337.94 898.64 L338.72 900.95 L339.5 903.18 L340.28 905.34 L341.06 907.42 L341.84 909.44 L342.63 911.38 L343.41 913.25 L344.19 915.04 L344.97 916.77 L345.75 918.42 L346.53 920.01 L347.31 921.52 L348.09 922.97 L348.88 924.35 L349.66 925.67 L350.44 926.92 L351.22 928.11 L352 929.24" fill="none" stroke="#f5a300" stroke-width="2.9"/>
<path d="M298.1 814.6 L300.26 816.11 L302.43 818.12 L304.59 820.52 L306.75 823.21 L308.92 826.39 L311.08 830.26 L313.24 834.54 L315.41 839.11 L317.57 844.27 L319.73 849.68 L321.9 854.93 L324.06 859.94 L326.22 865.09 L328.39 870.54 L330.55 876.14 L332.71 881.75 L334.88 887.48 L337.04 893.2 L339.2 898.69 L341.37 903.87 L343.53 908.88 L345.69 913.62 L347.86 918 L350.02 922.26 L352.18 926.25 L354.35 929.63 L356.51 932.19 L358.67 934.28 L360.84 936.08 L363 937.76 L365.16 939.43 L367.33 940.94 L369.49 942.1 L371.65 942.87 L373.82 943.53 L375.98 944.09 L378.14 944.53 L380.31 944.83 L382.47 945.02 L384.63 945.19 L386.79 945.33 L388.96 945.45 L391.12 945.53 L393.28 945.59 L395.45 945.6 L397.61 945.6 L399.77 945.6 L401.94 945.6 L404.1 945.6 L406.26 945.6 L408.43 945.6 L410.59 945.6 L412.75 945.6 L414.92 945.6 L417.08 945.6 L419.24 945.6 L421.41 945.6 L423.57 945.6 L425.73 945.6 L427.9 945.6 L430.06 945.6 L432.22 945.6 L434.39 945.6 L436.55 945.6 L438.71 945.6 L440.88 945.6 L443.04 945.6 L445.2 945.6 L447.37 945.6 L449.53 945.6 L451.69 945.6 L453.86 945.6 L456.02 945.6 L458.18 945.6 L460.35 945.6 L462.51 945.6 L464.67 945.6 L466.84 945.6 L469 945.6" fill="none" stroke="#000" stroke-width="2.7"/>
<circle cx="298.1" cy="807" r="2.65" fill="#fff" stroke="#000" stroke-width="1.05"/>
<circle cx="301.8" cy="820.2" r="2.65" fill="#fff" stroke="#000" stroke-width="1.05"/>
<circle cx="305.7" cy="826.3" r="2.65" fill="#fff" stroke="#000" stroke-width="1.05"/>
<circle cx="309.5" cy="830" r="2.65" fill="#fff" stroke="#000" stroke-width="1.05"/>
<circle cx="313.2" cy="836.1" r="2.65" fill="#fff" stroke="#000" stroke-width="1.05"/>
<circle cx="317.1" cy="846.8" r="2.65" fill="#fff" stroke="#000" stroke-width="1.05"/>
<circle cx="320.9" cy="857" r="2.65" fill="#fff" stroke="#000" stroke-width="1.05"/>
<circle cx="324.4" cy="864.2" r="2.65" fill="#fff" stroke="#000" stroke-width="1.05"/>
<circle cx="328.4" cy="871.9" r="2.65" fill="#fff" stroke="#000" stroke-width="1.05"/>
<circle cx="332.2" cy="879.9" r="2.65" fill="#fff" stroke="#000" stroke-width="1.05"/>
<circle cx="335.8" cy="892" r="2.65" fill="#fff" stroke="#000" stroke-width="1.05"/>
<circle cx="339.7" cy="899.9" r="2.65" fill="#fff" stroke="#000" stroke-width="1.05"/>
<circle cx="343.7" cy="909.1" r="2.65" fill="#fff" stroke="#000" stroke-width="1.05"/>
<circle cx="347.3" cy="916.9" r="2.65" fill="#fff" stroke="#000" stroke-width="1.05"/>
<circle cx="351.1" cy="923" r="2.65" fill="#fff" stroke="#000" stroke-width="1.05"/>
<circle cx="355.1" cy="930.6" r="2.65" fill="#fff" stroke="#000" stroke-width="1.05"/>
<circle cx="358.7" cy="933.9" r="2.65" fill="#fff" stroke="#000" stroke-width="1.05"/>
<circle cx="362.4" cy="937.3" r="2.65" fill="#fff" stroke="#000" stroke-width="1.05"/>
<circle cx="366.2" cy="939.8" r="2.65" fill="#fff" stroke="#000" stroke-width="1.05"/>
<circle cx="370" cy="942.3" r="2.65" fill="#fff" stroke="#000" stroke-width="1.05"/>
<circle cx="373.6" cy="943" r="2.65" fill="#fff" stroke="#000" stroke-width="1.05"/>
<circle cx="377.3" cy="944.2" r="2.65" fill="#fff" stroke="#000" stroke-width="1.05"/>
<circle cx="381.1" cy="944.9" r="2.65" fill="#fff" stroke="#000" stroke-width="1.05"/>
<circle cx="384.3" cy="944.6" r="2.65" fill="#fff" stroke="#000" stroke-width="1.05"/>
<circle cx="388" cy="944.74" r="2.65" fill="#fff" stroke="#000" stroke-width="1.05"/>
<circle cx="391.75" cy="944.18" r="2.65" fill="#fff" stroke="#000" stroke-width="1.05"/>
<circle cx="395.5" cy="945.78" r="2.65" fill="#fff" stroke="#000" stroke-width="1.05"/>
<circle cx="399.25" cy="943.93" r="2.65" fill="#fff" stroke="#000" stroke-width="1.05"/>
<circle cx="403" cy="945.41" r="2.65" fill="#fff" stroke="#000" stroke-width="1.05"/>
<circle cx="406.75" cy="944.87" r="2.65" fill="#fff" stroke="#000" stroke-width="1.05"/>
<circle cx="410.5" cy="943.89" r="2.65" fill="#fff" stroke="#000" stroke-width="1.05"/>
<circle cx="414.25" cy="945.32" r="2.65" fill="#fff" stroke="#000" stroke-width="1.05"/>
<circle cx="418" cy="943.82" r="2.65" fill="#fff" stroke="#000" stroke-width="1.05"/>
<circle cx="421.75" cy="945.09" r="2.65" fill="#fff" stroke="#000" stroke-width="1.05"/>
<circle cx="425.5" cy="943.92" r="2.65" fill="#fff" stroke="#000" stroke-width="1.05"/>
<circle cx="429.25" cy="943.99" r="2.65" fill="#fff" stroke="#000" stroke-width="1.05"/>
<circle cx="433" cy="945.06" r="2.65" fill="#fff" stroke="#000" stroke-width="1.05"/>
<circle cx="436.75" cy="946.35" r="2.65" fill="#fff" stroke="#000" stroke-width="1.05"/>
<circle cx="440.5" cy="944.1" r="2.65" fill="#fff" stroke="#000" stroke-width="1.05"/>
<circle cx="445.8" cy="942.3" r="2.65" fill="#fff" stroke="#000" stroke-width="1.05"/>
<circle cx="449.5" cy="947" r="2.65" fill="#fff" stroke="#000" stroke-width="1.05"/>
<circle cx="453.5" cy="942.8" r="2.65" fill="#fff" stroke="#000" stroke-width="1.05"/>
<circle cx="457.2" cy="947.4" r="2.65" fill="#fff" stroke="#000" stroke-width="1.05"/>
<text x="481.6" y="759.8" font-size="22.5" font-weight="bold" fill="#000" style="stroke:#000;stroke-width:0.9px">f</text>
<rect x="505" y="772.7" width="179.3" height="179.3" fill="none" stroke="#383838" stroke-width="1.9"/>
<path d="M513.3 952V943.4M513.3 772.7V781.3M572.6 952V947.7M572.6 772.7V777M631.9 952V943.4M631.9 772.7V781.3M691.2 952V947.7M691.2 772.7V777M505 945.5H513.6M684.3 945.5H675.7M505 881.3H509.3M684.3 881.3H680M505 817.1H513.6M684.3 817.1H675.7" stroke="#222" stroke-width="1.25" fill="none"/>
<rect x="684" y="772" width="1" height="181" fill="#000"/>
<text x="501.4" y="823.9" font-size="18.7" text-anchor="end" fill="#111">0.2</text>
<text x="501.4" y="952.3" font-size="18.7" text-anchor="end" fill="#111">0</text>
<text x="513.3" y="975.4" font-size="18.7" text-anchor="middle" fill="#111">0</text>
<text x="631.9" y="975.4" font-size="18.7" text-anchor="middle" fill="#111">100</text>
<text x="596" y="1003.4" font-size="18.7" text-anchor="middle" fill="#111">Radius (μm)</text>
<text x="603.2" y="762" font-size="18.7" text-anchor="middle" fill="#111">0.36<tspan font-style="italic">T</tspan><tspan font-size="12.9" dy="6.4">F</tspan></text>
<rect x="576.6" y="787.6" width="79.8" height="79.9" fill="url(#gf)"/>
<rect x="576.6" y="787.6" width="79.8" height="79.9" fill="#888" filter="url(#nz)" style="mix-blend-mode:overlay" opacity="0.42"/>
<rect x="660.4" y="787" width="8.9" height="81.2" fill="url(#cb)" stroke="#111" stroke-width="1.2"/>
<text x="526.5" y="933" font-size="18.7" text-anchor="middle" fill="#111">III</text>
<path d="M513.4 842.4 L513.84 842.45 L514.29 842.57 L514.73 842.74 L515.18 842.96 L515.62 843.22 L516.07 843.51 L516.51 843.83 L516.95 844.17 L517.4 844.52 L517.84 844.9 L518.29 845.38 L518.73 845.94 L519.18 846.58 L519.62 847.29 L520.06 848.06 L520.51 848.88 L520.95 849.74 L521.4 850.64 L521.84 851.55 L522.29 852.48 L522.73 853.41 L523.17 854.34 L523.62 855.25 L524.06 856.2 L524.51 857.19 L524.95 858.22 L525.4 859.28 L525.84 860.37 L526.28 861.48 L526.73 862.63 L527.17 863.8 L527.62 864.99 L528.06 866.21 L528.51 867.44 L528.95 868.69 L529.39 869.96 L529.84 871.3 L530.28 872.69 L530.73 874.14 L531.17 875.63 L531.62 877.14 L532.06 878.67 L532.51 880.21 L532.95 881.74 L533.39 883.25 L533.84 884.74 L534.28 886.18 L534.73 887.57 L535.17 888.91 L535.62 890.22 L536.06 891.51 L536.5 892.77 L536.95 894.02 L537.39 895.23 L537.84 896.41 L538.28 897.56 L538.73 898.66 L539.17 899.73 L539.61 900.76 L540.06 901.76 L540.5 902.74 L540.95 903.7 L541.39 904.64 L541.84 905.57 L542.28 906.5 L542.72 907.42 L543.17 908.35 L543.61 909.28 L544.06 910.19 L544.5 911.11 L544.95 912.01 L545.39 912.91 L545.83 913.8 L546.28 914.69 L546.72 915.57 L547.17 916.44 L547.61 917.3 L548.06 918.15 L548.5 919" fill="none" stroke="#f5a300" stroke-width="2.9"/>
<path d="M513.4 868 L515.56 869.42 L517.72 871.15 L519.88 873.16 L522.04 875.55 L524.2 878.26 L526.36 881.18 L528.52 884.37 L530.68 887.86 L532.84 891.5 L534.99 895.21 L537.15 899.08 L539.31 903.03 L541.47 906.93 L543.63 910.81 L545.79 914.69 L547.95 918.56 L550.11 922.52 L552.27 926.47 L554.43 929.94 L556.59 933.03 L558.75 935.72 L560.91 937.82 L563.07 939.58 L565.23 941.04 L567.39 942.18 L569.55 943.16 L571.71 944.01 L573.87 944.61 L576.03 944.92 L578.18 945.14 L580.34 945.32 L582.5 945.45 L584.66 945.5 L586.82 945.5 L588.98 945.5 L591.14 945.5 L593.3 945.5 L595.46 945.5 L597.62 945.5 L599.78 945.5 L601.94 945.5 L604.1 945.5 L606.26 945.5 L608.42 945.5 L610.58 945.5 L612.74 945.5 L614.9 945.5 L617.06 945.5 L619.22 945.5 L621.37 945.5 L623.53 945.5 L625.69 945.5 L627.85 945.5 L630.01 945.5 L632.17 945.5 L634.33 945.5 L636.49 945.5 L638.65 945.5 L640.81 945.5 L642.97 945.5 L645.13 945.5 L647.29 945.5 L649.45 945.5 L651.61 945.5 L653.77 945.5 L655.93 945.5 L658.09 945.5 L660.25 945.5 L662.41 945.5 L664.56 945.5 L666.72 945.5 L668.88 945.5 L671.04 945.5 L673.2 945.5 L675.36 945.5 L677.52 945.5 L679.68 945.5 L681.84 945.5 L684 945.5" fill="none" stroke="#000" stroke-width="2.7"/>
<circle cx="513.1" cy="849.3" r="2.65" fill="#fff" stroke="#000" stroke-width="1.05"/>
<circle cx="517.2" cy="865" r="2.65" fill="#fff" stroke="#000" stroke-width="1.05"/>
<circle cx="521.2" cy="872.8" r="2.65" fill="#fff" stroke="#000" stroke-width="1.05"/>
<circle cx="525.1" cy="881.8" r="2.65" fill="#fff" stroke="#000" stroke-width="1.05"/>
<circle cx="528.9" cy="886.2" r="2.65" fill="#fff" stroke="#000" stroke-width="1.05"/>
<circle cx="532.7" cy="890.6" r="2.65" fill="#fff" stroke="#000" stroke-width="1.05"/>
<circle cx="536.5" cy="898.2" r="2.65" fill="#fff" stroke="#000" stroke-width="1.05"/>
<circle cx="540.4" cy="905.2" r="2.65" fill="#fff" stroke="#000" stroke-width="1.05"/>
<circle cx="544.1" cy="915.4" r="2.65" fill="#fff" stroke="#000" stroke-width="1.05"/>
<circle cx="548.2" cy="920.8" r="2.65" fill="#fff" stroke="#000" stroke-width="1.05"/>
<circle cx="551.8" cy="930.7" r="2.65" fill="#fff" stroke="#000" stroke-width="1.05"/>
<circle cx="555.8" cy="932.9" r="2.65" fill="#fff" stroke="#000" stroke-width="1.05"/>
<circle cx="559.6" cy="937.6" r="2.65" fill="#fff" stroke="#000" stroke-width="1.05"/>
<circle cx="563.5" cy="939.5" r="2.65" fill="#fff" stroke="#000" stroke-width="1.05"/>
<circle cx="567.3" cy="943.1" r="2.65" fill="#fff" stroke="#000" stroke-width="1.05"/>
<circle cx="571.2" cy="944.9" r="2.65" fill="#fff" stroke="#000" stroke-width="1.05"/>
<circle cx="575.2" cy="944.2" r="2.65" fill="#fff" stroke="#000" stroke-width="1.05"/>
<circle cx="578.8" cy="946.1" r="2.65" fill="#fff" stroke="#000" stroke-width="1.05"/>
<circle cx="582.9" cy="946.8" r="2.65" fill="#fff" stroke="#000" stroke-width="1.05"/>
<circle cx="586.9" cy="942.4" r="2.65" fill="#fff" stroke="#000" stroke-width="1.05"/>
<circle cx="590.5" cy="943.9" r="2.65" fill="#fff" stroke="#000" stroke-width="1.05"/>
<circle cx="594.2" cy="946.1" r="2.65" fill="#fff" stroke="#000" stroke-width="1.05"/>
<circle cx="598.1" cy="943.9" r="2.65" fill="#fff" stroke="#000" stroke-width="1.05"/>
<circle cx="602" cy="944.09" r="2.65" fill="#fff" stroke="#000" stroke-width="1.05"/>
<circle cx="605.9" cy="945.71" r="2.65" fill="#fff" stroke="#000" stroke-width="1.05"/>
<circle cx="609.8" cy="946.99" r="2.65" fill="#fff" stroke="#000" stroke-width="1.05"/>
<circle cx="613.7" cy="945.51" r="2.65" fill="#fff" stroke="#000" stroke-width="1.05"/>
<circle cx="617.6" cy="944.79" r="2.65" fill="#fff" stroke="#000" stroke-width="1.05"/>
<circle cx="621.5" cy="947.11" r="2.65" fill="#fff" stroke="#000" stroke-width="1.05"/>
<circle cx="625.4" cy="943.39" r="2.65" fill="#fff" stroke="#000" stroke-width="1.05"/>
<circle cx="629.3" cy="946.63" r="2.65" fill="#fff" stroke="#000" stroke-width="1.05"/>
<circle cx="633.2" cy="944.36" r="2.65" fill="#fff" stroke="#000" stroke-width="1.05"/>
<circle cx="637.1" cy="943.78" r="2.65" fill="#fff" stroke="#000" stroke-width="1.05"/>
<circle cx="641" cy="943.67" r="2.65" fill="#fff" stroke="#000" stroke-width="1.05"/>
<circle cx="644.9" cy="944.43" r="2.65" fill="#fff" stroke="#000" stroke-width="1.05"/>
<circle cx="648.8" cy="946.46" r="2.65" fill="#fff" stroke="#000" stroke-width="1.05"/>
<circle cx="652.7" cy="943.92" r="2.65" fill="#fff" stroke="#000" stroke-width="1.05"/>
<circle cx="656.6" cy="945.53" r="2.65" fill="#fff" stroke="#000" stroke-width="1.05"/>
<circle cx="660.5" cy="945.76" r="2.65" fill="#fff" stroke="#000" stroke-width="1.05"/>
<circle cx="664.4" cy="944.69" r="2.65" fill="#fff" stroke="#000" stroke-width="1.05"/>
<circle cx="668.3" cy="945.39" r="2.65" fill="#fff" stroke="#000" stroke-width="1.05"/>
<circle cx="672.2" cy="943.45" r="2.65" fill="#fff" stroke="#000" stroke-width="1.05"/>
<circle cx="676.2" cy="935.3" r="2.65" fill="#fff" stroke="#000" stroke-width="1.05"/>
</svg>
</body></html>
